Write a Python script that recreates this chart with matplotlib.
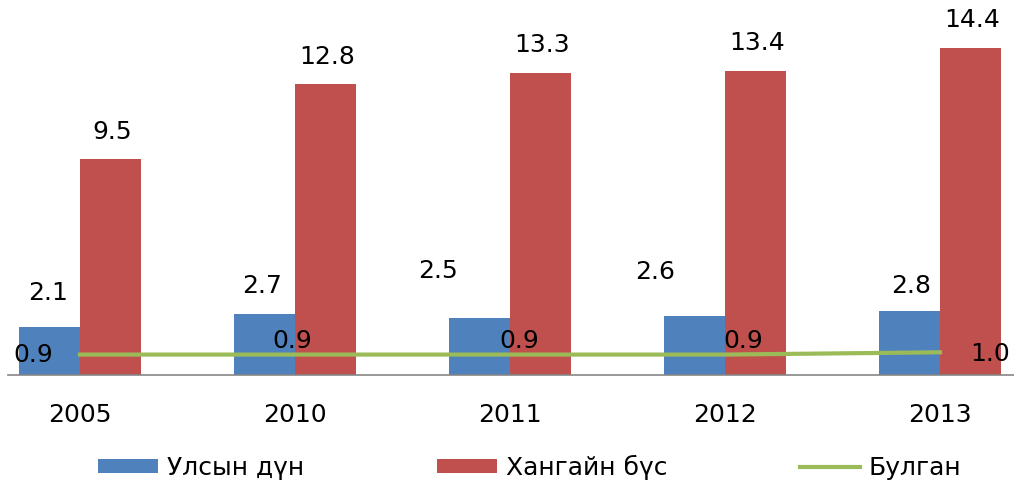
import matplotlib
matplotlib.use("Agg")
import matplotlib.pyplot as plt
import numpy as np

plt.rcParams['font.family'] = ['DejaVu Sans']

years = ['2005', '2010', '2011', '2012', '2013']
ulsyn = [2.1, 2.7, 2.5, 2.6, 2.8]
khangai = [9.5, 12.8, 13.3, 13.4, 14.4]
bulgan = [0.9, 0.9, 0.9, 0.9, 1.0]
labels_u = ['2.1', '2.7', '2.5', '2.6', '2.8']
labels_k = ['9.5', '12.8', '13.3', '13.4', '14.4']
labels_b = ['0.9', '0.9', '0.9', '0.9', '1.0']

# label offsets (points)
off_u = [(-1, 25), (-2, 20), (-30, 34), (-28, 32), (1, 18)]
off_b = [(-34, 0), (-2, 10), (7, 10), (13, 10), (36, -1)]

blue = '#4F81BD'
red = '#C0504D'
green = '#9BBB59'

fig = plt.figure(figsize=(10.14, 4.82), dpi=100)
ax = fig.add_axes([8/1014, 107/482, 1006/1014, 375/482])
x = np.arange(len(years))
w = 0.285
b1 = ax.bar(x - w/2, ulsyn, w, color=blue, label='Улсын дүн', zorder=2)
b2 = ax.bar(x + w/2, khangai, w, color=red, label='Хангайн бүс', zorder=2)
ln, = ax.plot(x, bulgan, color=green, lw=3, label='Булган', zorder=3)

fs = 18
for i in range(len(x)):
    ax.annotate(labels_u[i], (x[i] - w/2, ulsyn[i]), xytext=off_u[i], textcoords='offset points',
                ha='center', va='center', fontsize=fs)
    ax.annotate(labels_k[i], (x[i] + w/2, khangai[i]), xytext=(1, 20), textcoords='offset points',
                ha='center', va='center', fontsize=fs)
    ax.annotate(labels_b[i], (x[i], bulgan[i]), xytext=off_b[i], textcoords='offset points',
                ha='center', va='center', fontsize=fs, zorder=4)

ax.set_xlim((8-80)/215, (1014-80)/215)
ax.set_ylim(0, 375/22.7)
for s in ['top', 'right', 'left']:
    ax.spines[s].set_visible(False)
ax.spines['bottom'].set_color('#868686')
ax.spines['bottom'].set_linewidth(1.2)
ax.set_yticks([])
ax.set_xticks(x)
ax.set_xticklabels(years, fontsize=fs)
ax.tick_params(axis='x', length=0, pad=20)

leg = fig.legend(handles=[b1, b2, ln], loc='center left', bbox_to_anchor=(98/1014, 1 - 467/482),
                 ncol=3, frameon=False, fontsize=fs, handlelength=2.4, handleheight=0.5,
                 columnspacing=5.3, handletextpad=0.36, borderpad=0, borderaxespad=0)

fig.savefig('out.png', dpi=100)
